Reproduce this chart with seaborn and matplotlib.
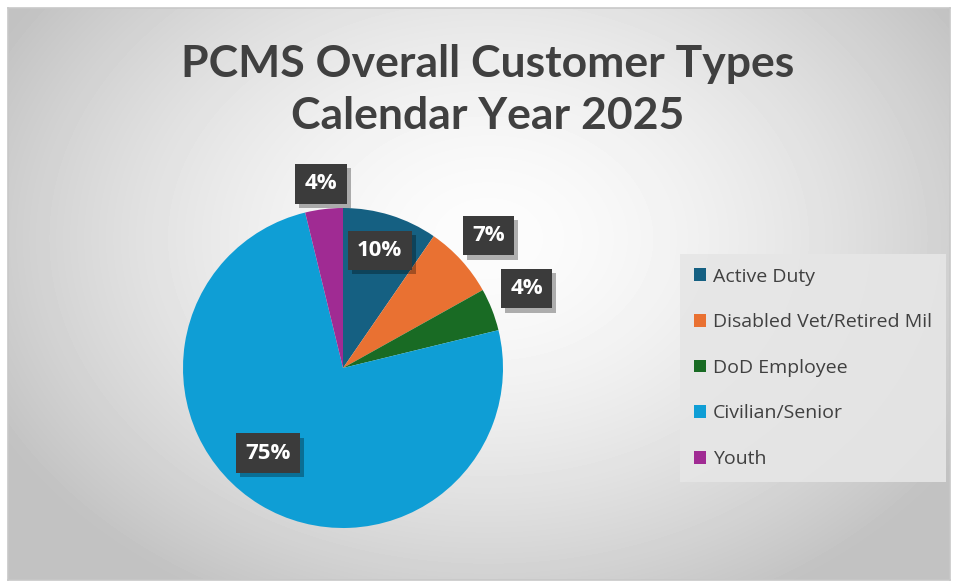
import numpy as np
import matplotlib.pyplot as plt
import matplotlib.patheffects as pe
import seaborn as sns

# Data
categories = ["Active Duty", "Disabled Vet/Retired Mil", "DoD Employee", "Civilian/Senior", "Youth"]
shares = [9.6, 7.3, 4.3, 75.0, 3.8]
pct_labels = ["10%", "7%", "4%", "75%", "4%"]
colors = ["#156082", "#E97132", "#196B24", "#0F9ED5", "#A02B93"]

# label placement (radius factor, angle shift in degrees)
label_r = [0.77, 1.23, 1.25, 0.71, 1.16]
label_dtheta = [0, 0, 2, -10, 0]

sns.set_theme(style="white")
plt.rcParams['font.family'] = ['Open Sans', 'DejaVu Sans']

fig = plt.figure(figsize=(9.56, 5.83), dpi=100)
fig.patch.set_facecolor("white")

# background with radial gradient
bg = fig.add_axes([8 / 956, 3 / 583, 942 / 956, 572 / 583])
yy, xx = np.mgrid[0:572, 0:942]
d = np.sqrt(((xx - 480) / 540.0) ** 2 + ((yy - 230) / 400.0) ** 2)
shade = np.clip(0.99 - 0.22 * d ** 1.6, 0.76, 1.0)
bg.imshow(shade, cmap="gray", vmin=0, vmax=1, aspect="auto", interpolation="bilinear")
bg.set_xticks([])
bg.set_yticks([])
for s in bg.spines.values():
    s.set_color("#c8c8c8")
    s.set_linewidth(1.2)

# pie axes: center at (343, 368) px, radius 160 px
ax = fig.add_axes([103 / 956, 40 / 583, 480 / 956, 350 / 583])
ax.set_facecolor("none")
wedges, _ = ax.pie(shares, colors=colors, startangle=90, counterclock=False,
                   radius=1.0, wedgeprops=dict(linewidth=0))
ax.set_xlim(-1.5, 1.5)
ax.set_ylim(-175 / 160, 175 / 160)
ax.set_aspect("equal", adjustable="box")
ax.axis("off")

for w, lab, r, dt in zip(wedges, pct_labels, label_r, label_dtheta):
    mid = np.deg2rad((w.theta1 + w.theta2) / 2 + dt)
    t = ax.text(r * np.cos(mid), r * np.sin(mid), lab, ha="center", va="center",
                fontsize=16, fontweight="bold", color="white",
                bbox=dict(boxstyle="square,pad=0.42", facecolor="#3b3b3b", edgecolor="none"))
    t.get_bbox_patch().set_path_effects([
        pe.withSimplePatchShadow(offset=(3, -3), shadow_rgbFace="black", alpha=0.3)])

# title
fig.text(488 / 956, 1 - 90 / 583, "PCMS Overall Customer Types\nCalendar Year 2025",
         ha="center", va="center", fontsize=32, fontweight="bold", color="#404040",
         family=["Lato", "DejaVu Sans"], linespacing=1.35)

# legend
leg = fig.legend(wedges, categories, loc="upper left",
                 bbox_to_anchor=(680 / 956, 1 - 254 / 583),
                 frameon=True, fancybox=False, fontsize=14,
                 handlelength=0.65, handleheight=0.65, handletextpad=0.35,
                 labelspacing=1.42, borderpad=0.7, borderaxespad=0)
leg.get_frame().set_facecolor("#e6e6e6")
leg.get_frame().set_edgecolor("none")
leg.get_frame().set_alpha(0.9)
for txt in leg.get_texts():
    txt.set_color("#404040")

plt.savefig("out.png", dpi=100)
plt.close()
